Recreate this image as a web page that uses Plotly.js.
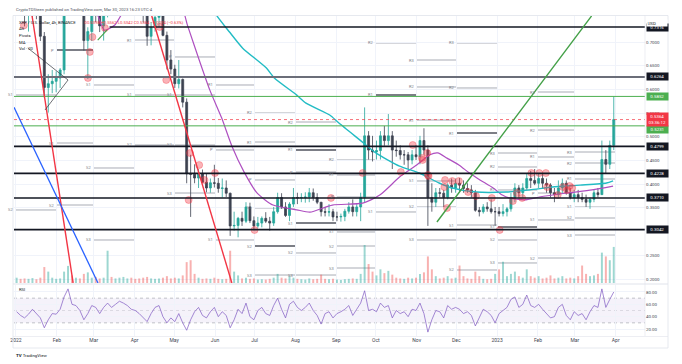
<!DOCTYPE html>
<html>
<head>
<meta charset="utf-8">
<script src="https://cdn.plot.ly/plotly-3.0.1.min.js"></script>
<style>
html,body{margin:0;padding:0;background:#ffffff;overflow:hidden;}
#chart{width:682px;height:364px;}
</style>
</head>
<body>
<div id="chart"></div>
<script>
// ================= DATA =================
const candleStart = '2021-12-31';
const candleStepDays = 3;
const firstOpen = 0.83;
const highs = [
0.862,0.851,0.802,0.771,0.812,0.793,0.778,0.721,0.632,0.641,
0.638,0.645,0.782,0.912,0.862,0.843,0.841,0.792,0.731,0.783,
0.812,0.773,0.782,0.823,0.812,0.823,0.842,0.862,0.872,0.871,
0.842,0.843,0.792,0.771,0.742,0.771,0.792,0.781,0.722,0.683,
0.652,0.662,0.623,0.581,0.462,0.442,0.432,0.431,0.422,0.412,
0.441,0.413,0.412,0.408,0.382,0.342,0.331,0.342,0.362,0.361,
0.332,0.331,0.332,0.341,0.331,0.352,0.382,0.381,0.362,0.362,
0.392,0.382,0.381,0.383,0.392,0.391,0.381,0.362,0.352,0.358,
0.348,0.342,0.338,0.348,0.362,0.368,0.358,0.382,0.562,0.512,
0.502,0.492,0.512,0.523,0.548,0.512,0.492,0.482,0.472,0.468,
0.472,0.482,0.502,0.518,0.482,0.402,0.392,0.392,0.388,0.402,
0.412,0.412,0.413,0.408,0.402,0.398,0.388,0.352,0.358,0.362,
0.368,0.352,0.352,0.358,0.352,0.382,0.402,0.398,0.402,0.422,
0.428,0.432,0.422,0.422,0.412,0.402,0.392,0.408,0.412,0.408,
0.392,0.388,0.388,0.382,0.378,0.372,0.388,0.392,0.492,0.472,
0.492,0.585];
const lows = [
0.805,0.781,0.733,0.722,0.752,0.748,0.702,0.583,0.551,0.592,
0.594,0.603,0.632,0.758,0.782,0.771,0.762,0.682,0.622,0.702,
0.742,0.721,0.703,0.752,0.771,0.772,0.793,0.812,0.822,0.812,
0.802,0.782,0.741,0.692,0.693,0.722,0.732,0.712,0.642,0.632,
0.603,0.602,0.562,0.402,0.331,0.402,0.392,0.402,0.383,0.382,
0.393,0.382,0.372,0.373,0.291,0.302,0.288,0.312,0.318,0.318,
0.303,0.308,0.309,0.318,0.302,0.312,0.338,0.348,0.331,0.322,
0.352,0.358,0.362,0.361,0.362,0.365,0.358,0.332,0.332,0.332,
0.322,0.322,0.321,0.322,0.338,0.332,0.332,0.322,0.362,0.452,
0.448,0.452,0.452,0.481,0.482,0.432,0.458,0.452,0.441,0.432,
0.442,0.451,0.442,0.462,0.312,0.342,0.352,0.372,0.352,0.368,
0.382,0.382,0.383,0.382,0.382,0.372,0.342,0.332,0.338,0.342,
0.338,0.312,0.332,0.332,0.332,0.342,0.362,0.372,0.372,0.388,
0.392,0.398,0.392,0.392,0.382,0.372,0.362,0.372,0.382,0.378,
0.368,0.362,0.362,0.362,0.352,0.348,0.362,0.372,0.378,0.422,
0.432,0.472];
const closes = [
0.838,0.790,0.758,0.762,0.781,0.762,0.712,0.604,0.612,0.617,
0.624,0.641,0.763,0.832,0.801,0.823,0.781,0.703,0.722,0.763,
0.762,0.734,0.772,0.793,0.792,0.812,0.831,0.841,0.843,0.823,
0.821,0.791,0.762,0.712,0.731,0.752,0.772,0.714,0.662,0.643,
0.612,0.621,0.573,0.422,0.421,0.413,0.422,0.404,0.392,0.403,
0.402,0.391,0.392,0.381,0.312,0.313,0.328,0.322,0.352,0.323,
0.312,0.318,0.328,0.322,0.318,0.342,0.372,0.352,0.334,0.358,
0.372,0.371,0.372,0.373,0.382,0.372,0.362,0.342,0.341,0.342,
0.331,0.331,0.332,0.343,0.352,0.342,0.352,0.372,0.502,0.472,
0.468,0.471,0.502,0.492,0.502,0.472,0.471,0.462,0.462,0.451,
0.462,0.458,0.492,0.472,0.372,0.362,0.382,0.381,0.372,0.398,
0.392,0.402,0.398,0.391,0.388,0.382,0.345,0.342,0.352,0.348,
0.342,0.342,0.338,0.342,0.348,0.372,0.392,0.382,0.392,0.412,
0.408,0.402,0.412,0.402,0.398,0.382,0.378,0.392,0.402,0.382,
0.372,0.378,0.372,0.368,0.362,0.368,0.382,0.378,0.452,0.442,
0.482,0.5364];
const volumes = [
14,11,12,11,13,10,14,42,30,14,
11,12,30,45,20,14,12,24,28,14,
16,12,14,85,16,12,14,16,12,14,
11,12,14,16,12,11,12,14,18,12,
14,12,20,55,60,24,14,11,12,11,
14,11,10,11,85,30,20,12,14,11,
12,9,10,9,11,14,24,14,12,18,
14,11,10,9,12,10,11,22,11,10,
11,9,8,10,11,12,11,24,100,50,
30,20,36,26,32,22,14,12,11,14,
12,14,24,28,70,36,18,12,14,18,
12,14,46,18,12,11,30,18,11,10,
11,24,36,56,18,24,30,18,14,36,
18,14,18,12,14,20,12,14,18,12,
14,12,18,46,24,18,20,24,80,70,
60,95];
const rsiValues = [
48,42,38,44,52,45,38,22,35,45,
44,52,72,85,60,58,50,35,45,58,
55,45,55,62,55,60,65,62,58,52,
50,45,38,32,45,55,58,40,30,38,
32,45,30,18,35,48,55,42,38,48,
55,40,48,42,22,35,52,45,62,40,
35,50,55,45,42,58,70,52,38,60,
65,55,50,55,62,50,42,28,45,48,
38,45,48,52,58,42,52,62,82,50,
52,48,62,55,58,38,50,45,48,40,
52,50,62,45,15,35,50,48,38,58,
52,55,52,45,48,42,25,38,52,48,
42,30,45,50,55,68,72,55,60,75,
58,55,60,52,45,38,40,55,60,42,
35,48,42,45,35,48,58,55,85,55,
68,80];

const maPurpleDates = ['2022-02-20','2022-03-03','2022-03-09','2022-03-17','2022-03-25','2022-04-11','2022-05-07','2022-05-11','2022-05-20','2022-05-28','2022-06-06','2022-06-14','2022-06-23','2022-07-03','2022-07-15','2022-08-02','2022-08-12','2022-08-29','2022-09-21','2022-10-04','2022-10-19','2022-11-01','2022-11-11','2022-11-17','2022-11-24','2022-12-03','2022-12-11','2022-12-19','2022-12-29','2023-01-05','2023-01-10','2023-01-22','2023-02-02','2023-02-23','2023-03-14','2023-03-30'];
const maPurpleValues = [0.80,0.763,0.725,0.736,0.77,0.80,0.77,0.736,0.662,0.599,0.540,0.479,0.426,0.381,0.356,0.346,0.341,0.356,0.360,0.377,0.415,0.4405,0.462,0.466,0.455,0.4405,0.4236,0.409,0.392,0.377,0.371,0.367,0.373,0.3814,0.388,0.396];
const maTealDates = ['2022-05-25','2022-06-02','2022-06-12','2022-06-22','2022-07-10','2022-07-16','2022-08-02','2022-08-09','2022-08-27','2022-09-03','2022-09-19','2022-10-01','2022-10-19','2022-11-03','2022-11-18','2022-11-28','2022-12-16','2023-01-08','2023-01-26','2023-02-12','2023-03-05','2023-03-25','2023-03-30'];
const maTealValues = [0.80,0.757,0.721,0.687,0.645,0.624,0.588,0.571,0.546,0.529,0.493,0.466,0.438,0.4236,0.4025,0.392,0.3835,0.3835,0.388,0.394,0.398,0.4025,0.407];

const alertDates = ['2022-01-07','2022-02-24 14:00','2022-02-26','2022-02-28','2022-03-09 12:00','2022-04-20','2022-04-25','2022-05-12','2022-05-13','2022-05-20','2022-05-24','2022-06-01','2022-07-01','2022-08-28','2022-09-21','2022-10-20','2022-10-29','2022-11-05','2022-11-05 12:00','2022-11-09','2022-11-10','2022-11-09 12:00','2022-11-22','2022-11-22 12:00','2022-11-24','2022-11-28','2022-12-03','2022-12-10','2022-12-16','2022-12-28','2023-01-03','2023-01-13','2023-01-16','2023-01-20','2023-01-27','2023-02-02','2023-02-07','2023-02-08','2023-02-16','2023-02-20','2023-02-23','2023-02-25','2023-02-27'];
const alertPrices = [0.735,0.624,0.679,0.7105,0.7295,0.7316,0.6198,0.3667,0.4658,0.4405,0.4089,0.4236,0.3034,0.371,0.4236,0.4257,0.4827,0.4553,0.4511,0.4658,0.4173,0.4194,0.394,0.4089,0.3498,0.4067,0.4067,0.3835,0.3751,0.3709,0.3034,0.3646,0.3814,0.3709,0.4236,0.4236,0.4236,0.394,0.3772,0.394,0.3878,0.3962,0.392];

const keyLevels = [0.6264, 0.5852, 0.5231, 0.4799, 0.4228, 0.3710, 0.3042];
const topLevel = 0.7316;
const topLevelStart = '2022-03-13';
const lastPrice = 0.5364;
const countdown = '03:36:12';

const monthTicks = ['2022-01-01','2022-02-01','2022-03-01','2022-04-01','2022-05-01','2022-06-01','2022-07-01','2022-08-01','2022-09-01','2022-10-01','2022-11-01','2022-12-01','2023-01-01','2023-02-01','2023-03-01','2023-04-01'];
const monthLabels = ['2022','Feb','Mar','Apr','May','Jun','Jul','Aug','Sep','Oct','Nov','Dec','2023','Feb','Mar','Apr'];
// 0.3000 is hidden behind the 0.3042 level box in the reference
const priceTicks = [0.20,0.25,0.35,0.40,0.45,0.50,0.55,0.60,0.65,0.70];
const rsiTicks = [20,40,60,80];

const pivotMonth = [0,0, 1,1,1, 2,2,2, 3,3,3, 4,4,4,4, 5,5,5, 6,6,6,6,6,6, 7,7,7,7,7,7, 8,8,8,8,8,8, 9,9,9, 10,10,10,10,10,10, 11,11,11,11,11, 12,12,12,12,12,12, 13,13,13,13,13,13, 14,14,14,14,14,14];
const pivotLabel = ['S1','S2', 'P','S1','S2', 'S1','S2','S3', 'R1','S1','S2', 'P','S1','S2','S3', 'R1','P','S1', 'R2','R1','P','S1','S2','S3', 'R2','R1','P','S1','S2','S3', 'R2','R1','P','S1','S2','S3', 'R2','R1','S1', 'R3','R2','R1','S1','S2','S3', 'R3','R2','R1','S1','S2', 'R3','R2','R1','S1','S2','S3', 'R3','R2','R1','P','S1','S2', 'R3','R2','R1','S1','S2','S3'];
const pivotValue = [0.5882,0.3456, 0.6831,0.4869,0.3561, 0.6093,0.4342,0.2823, 0.7042,0.5882,0.4827, 0.6684,0.5882,0.4827,0.3814, 0.6093,0.4722,0.2823, 0.5502,0.4890,0.4089,0.3498,0.2696,0.2084, 0.5312,0.4722,0.4257,0.3181,0.2549,0.2084, 0.4511,0.4194,0.3730,0.2992,0.2696,0.2232, 0.6979,0.5882,0.3414, 0.6620,0.6051,0.5354,0.4068,0.3519,0.2823, 0.6979,0.6030,0.5080,0.3139,0.2190, 0.4658,0.4363,0.3878,0.3097,0.2823,0.2338, 0.5945,0.5143,0.4574,0.3814,0.3245,0.2443, 0.4679,0.4447,0.4110,0.3519,0.3287,0.2928];

// trend-line drawings: [date0, price0, date1, price1]
const trendLines = [
  ['2022-01-13 05:00', 0.755, '2022-02-13 09:00', 0.1916],
  ['2021-12-30 12:00', 0.5624, '2022-03-04 05:00', 0.1916],
  ['2022-04-14 00:00', 0.755, '2022-06-13 19:00', 0.1916],
  ['2022-11-16 09:00', 0.3203, '2023-03-13 17:00', 0.755],
  ['2022-01-10 00:00', 0.6873, '2022-02-09 12:00', 0.6198],
  ['2022-01-23 00:00', 0.5565, '2022-02-09 12:00', 0.6198],
  ['2022-03-04 00:00', 0.7042, '2022-03-11 00:00', 0.7253]
];

// ================= STYLE / LAYOUT =================
const W = 682, H = 364;
const px = v => v / W;
const py = v => 1 - v / H;
const X0 = px(14), X1 = px(645);
const xRange = ['2021-12-30 12:00', '2023-04-23 05:00'];
const DAY = 86400000;
const FONT = 'Roboto, "Liberation Sans", "DejaVu Sans", sans-serif';

const t0 = Date.parse(candleStart + 'T00:00:00Z');
const iso = ms => new Date(ms).toISOString().slice(0, 19).replace('T', ' ');
const xs = closes.map((_, i) => iso(t0 + (i * candleStepDays + candleStepDays / 2) * DAY));
const opens = closes.map((c, i) => i === 0 ? firstOpen : closes[i - 1]);

const UP = '#26a69a', DOWN = '#3d4350';

const traces = [
  {
    type: 'bar', x: xs, y: volumes, xaxis: 'x', yaxis: 'y2',
    width: candleStepDays * DAY * 0.5,
    marker: { color: closes.map((c, i) => c >= opens[i] ? 'rgba(38,166,154,0.45)' : 'rgba(239,83,80,0.45)'), line: { width: 0 } },
    hoverinfo: 'skip'
  },
  {
    type: 'candlestick', x: xs, open: opens, high: highs, low: lows, close: closes,
    xaxis: 'x', yaxis: 'y', whiskerwidth: 0,
    increasing: { line: { color: UP, width: 0.8 }, fillcolor: UP },
    decreasing: { line: { color: DOWN, width: 0.8 }, fillcolor: DOWN },
    hoverinfo: 'skip'
  },
  {
    type: 'scatter', mode: 'lines', x: maPurpleDates, y: maPurpleValues, xaxis: 'x', yaxis: 'y',
    line: { color: '#ae4fc0', width: 1.2, shape: 'spline', smoothing: 0.6 }, hoverinfo: 'skip'
  },
  {
    type: 'scatter', mode: 'lines', x: maTealDates, y: maTealValues, xaxis: 'x', yaxis: 'y',
    line: { color: '#22bcc4', width: 1.4, shape: 'spline', smoothing: 0.6 }, hoverinfo: 'skip'
  },
  {
    type: 'scatter', mode: 'markers', x: alertDates, y: alertPrices, xaxis: 'x', yaxis: 'y',
    marker: { size: 7, color: 'rgba(242,54,69,0.38)', line: { color: 'rgba(242,54,69,0.55)', width: 0.6 } },
    hoverinfo: 'skip'
  },
  {
    type: 'scatter', mode: 'lines', x: xs, y: rsiValues, xaxis: 'x', yaxis: 'y3',
    line: { color: '#7e57c2', width: 0.7 }, hoverinfo: 'skip'
  }
];

const shapes = [];
shapes.push({ type: 'rect', xref: 'paper', yref: 'y3', x0: X0, x1: X1, y0: 30, y1: 70, fillcolor: 'rgba(126,87,194,0.08)', line: { width: 0 }, layer: 'below' });
[70, 50, 30].forEach((v, k) => shapes.push({ type: 'line', xref: 'paper', yref: 'y3', x0: X0, x1: X1, y0: v, y1: v,
  line: { color: k === 1 ? 'rgba(120,123,134,0.35)' : 'rgba(120,123,134,0.75)', width: 0.6, dash: 'dot' }, layer: 'below' }));

const pivotDarkIdx = [2, 22, 25, 27, 37, 47, 53];
pivotMonth.forEach((m, k) => {
  const dark = pivotDarkIdx.includes(k);
  shapes.push({ type: 'line', xref: 'x', yref: 'y', x0: monthTicks[m], x1: monthTicks[m + 1], y0: pivotValue[k], y1: pivotValue[k],
    line: { color: dark ? '#50535e' : '#a9acb5', width: dark ? 1.5 : 1 }, layer: 'below' });
});

const levelLine = [
  { color: '#6b6e79', width: 2 },
  { color: '#4caf50', width: 1 },
  { color: '#4caf50', width: 1 },
  { color: '#131722', width: 1.6 },
  { color: '#131722', width: 1.6 },
  { color: '#131722', width: 1.6 },
  { color: '#131722', width: 1.6 }
];
keyLevels.forEach((v, k) => shapes.push({ type: 'line', xref: 'paper', yref: 'y', x0: X0, x1: X1, y0: v, y1: v, line: levelLine[k] }));
shapes.push({ type: 'line', xref: 'x', yref: 'y', x0: topLevelStart, x1: xRange[1], y0: topLevel, y1: topLevel, line: { color: '#131722', width: 1.3 } });
shapes.push({ type: 'line', xref: 'paper', yref: 'y', x0: X0, x1: X1, y0: lastPrice, y1: lastPrice, line: { color: '#f23645', width: 0.7, dash: 'dot' } });

const trendStyle = [
  { color: '#f23645', width: 1.4 }, { color: '#2962ff', width: 1.3 }, { color: '#f23645', width: 1.4 },
  { color: '#43a047', width: 1.4 }, { color: '#30333c', width: 0.7 }, { color: '#30333c', width: 0.7 }, { color: '#43a047', width: 1.1 }
];
trendLines.forEach((t, k) => shapes.push({ type: 'line', xref: 'x', yref: 'y', x0: t[0], y0: t[1], x1: t[2], y1: t[3], line: trendStyle[k] }));

const frame = '#e0e3eb';
shapes.push({ type: 'rect', xref: 'paper', yref: 'paper', x0: px(13), x1: px(668), y0: py(348), y1: py(15.5), line: { color: frame, width: 0.8 }, fillcolor: 'rgba(0,0,0,0)' });
shapes.push({ type: 'line', xref: 'paper', yref: 'paper', x0: px(13), x1: px(668), y0: py(284), y1: py(284), line: { color: frame, width: 1 } });
shapes.push({ type: 'line', xref: 'paper', yref: 'paper', x0: X1, x1: X1, y0: py(336), y1: py(15.5), line: { color: frame, width: 0.6 } });
shapes.push({ type: 'line', xref: 'paper', yref: 'paper', x0: px(13), x1: px(668), y0: py(336.5), y1: py(336.5), line: { color: frame, width: 0.6 } });

const ann = [];
const txt = (x, y, text, size, color, extra) => Object.assign({ xref: 'paper', yref: 'paper', x: px(x), y: py(y), xanchor: 'left', yanchor: 'middle', text: text, showarrow: false, font: { family: FONT, size: size, color: color } }, extra || {});
ann.push(txt(14, 9.5, 'CryptoTDSteen published on TradingView.com, Mar 30, 2023 16:23 UTC-4', 4.2, '#50535e'));
ann.push(txt(17, 22, 'XRP / U.S. Dollar, 4h, BINANCE', 4.2, '#131722'));
ann.push(txt(82, 22, 'O0.5398 H0.5562 L0.5342 C0.5364 −0.0034 (−0.63%)', 4.2, '#f23645'));
ann.push(txt(17, 29, 'Alt', 4.2, '#131722'));
ann.push(txt(17, 35.5, 'Pivots', 4.2, '#131722'));
ann.push(txt(17, 42, 'MA', 4.2, '#131722'));
ann.push(txt(17, 48.5, 'Vol · 20', 4.2, '#131722'));
ann.push(txt(17, 289.5, 'RSI', 4.2, '#131722'));
ann.push(txt(14, 355, '<b>TV</b> TradingView', 4.4, '#131722'));

pivotMonth.forEach((m, k) => ann.push({ xref: 'x', yref: 'y', x: monthTicks[m], y: pivotValue[k], xanchor: 'right', yanchor: 'middle', xshift: -0.5,
  text: pivotLabel[k], showarrow: false, font: { family: FONT, size: 4, color: '#787b86' } }));

const boxColors = ['#131722', '#4caf50', '#4caf50', '#131722', '#131722', '#131722', '#131722'];
const boxShift = [0, 0, -3.8, 0, 0, 0, 0];
const box = (v, text, bg, shift) => ({ xref: 'paper', yref: 'y', x: px(646), y: v, xanchor: 'left', yanchor: 'middle', yshift: shift || 0,
  text: text, showarrow: false, bgcolor: bg, borderpad: 1.1, width: 18.5, align: 'center', font: { family: FONT, size: 4.4, color: '#ffffff' } });
ann.push(box(topLevel, topLevel.toFixed(4), '#131722', 0));
keyLevels.forEach((v, k) => ann.push(box(v, v.toFixed(4), boxColors[k], boxShift[k])));
ann.push(box(lastPrice, lastPrice.toFixed(4) + '<br>' + countdown, '#f23645', 0));
ann.push(txt(646, 22.5, 'USD', 4.4, '#131722', { bgcolor: '#ffffff', width: 19, align: 'left', borderpad: 0.5 }));

const layout = {
  width: W, height: H, margin: { l: 0, r: 0, t: 0, b: 0 },
  paper_bgcolor: '#ffffff', plot_bgcolor: '#ffffff', showlegend: false,
  font: { family: FONT, size: 5, color: '#434651' },
  xaxis: {
    domain: [X0, X1], type: 'date', range: xRange, anchor: 'y3',
    tickmode: 'array', tickvals: monthTicks, ticktext: monthLabels, tickfont: { size: 5, color: '#434651' },
    showgrid: true, gridcolor: '#f0f3fa', gridwidth: 1, zeroline: false, showline: false, ticks: '',
    rangeslider: { visible: false }, fixedrange: true
  },
  yaxis: {
    domain: [py(283), py(16)], range: [0.19156, 0.75485], side: 'right', anchor: 'x',
    tickmode: 'array', tickvals: priceTicks, ticktext: priceTicks.map(v => v.toFixed(4)), tickfont: { size: 4.4, color: '#434651' },
    showgrid: true, gridcolor: '#f0f3fa', zeroline: false, showline: false, ticks: '', fixedrange: true
  },
  yaxis2: { overlaying: 'y', anchor: 'x', range: [0, 703], visible: false, showgrid: false, fixedrange: true },
  yaxis3: {
    domain: [py(336), py(285)], range: [8.7, 91.3], side: 'right', anchor: 'x',
    tickmode: 'array', tickvals: rsiTicks, ticktext: rsiTicks.map(v => v.toFixed(2)), tickfont: { size: 4.4, color: '#434651' },
    showgrid: true, gridcolor: '#f0f3fa', zeroline: false, showline: false, ticks: '', fixedrange: true
  },
  shapes: shapes,
  annotations: ann
};

Plotly.newPlot('chart', traces, layout, { staticPlot: true, displayModeBar: false });
</script>
</body>
</html>
